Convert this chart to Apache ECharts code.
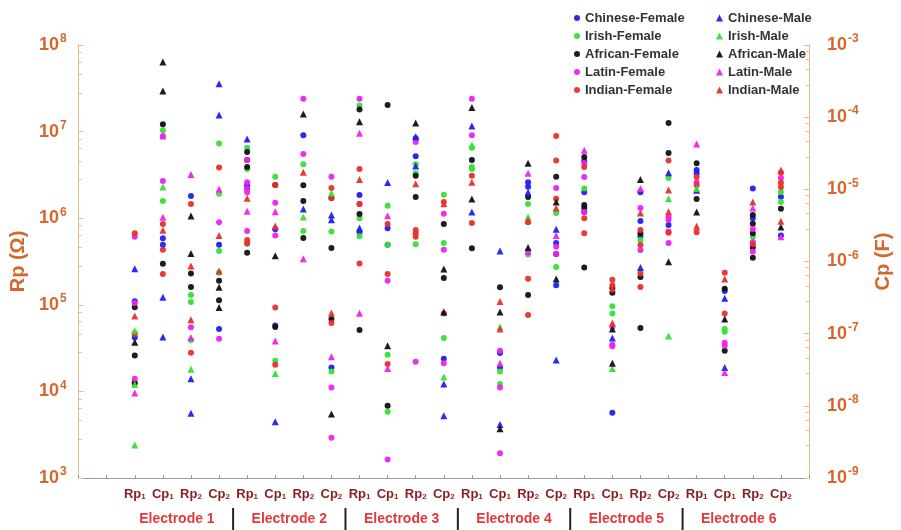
<!DOCTYPE html>
<html><head><meta charset="utf-8">
<script src="https://cdn.jsdelivr.net/npm/echarts@6/dist/echarts.min.js"></script>
<style>html,body{margin:0;padding:0;background:#fff}#c{width:901px;height:530px}</style>
</head><body><div id="c"></div>
<script>
// ---- categories / labels ----
const categories = ['Rp1','Cp1','Rp2','Cp2','Rp1','Cp1','Rp2','Cp2','Rp1','Cp1','Rp2','Cp2',
                    'Rp1','Cp1','Rp2','Cp2','Rp1','Cp1','Rp2','Cp2','Rp1','Cp1','Rp2','Cp2'];
const electrodes = ['Electrode 1','Electrode 2','Electrode 3','Electrode 4','Electrode 5','Electrode 6'];
const leftTicks = [1e3,1e4,1e5,1e6,1e7,1e8];
const rightTicks = [1e-9,1e-8,1e-7,1e-6,1e-5,1e-4,1e-3];
const femaleNames = ['Chinese-Female','Irish-Female','African-Female','Latin-Female','Indian-Female'];
const maleNames = ['Chinese-Male','Irish-Male','African-Male','Latin-Male','Indian-Male'];

// ---- values per column (Rp columns in Ω, Cp columns in F) ----
const chineseFemale = [[1.1e5,4.2e4],[2.1e-6,1.7e-6],[1.8e6],[1.7e-6,1.16e-7],[2.4e6,2.2e6],[2.8e-6,1.3e-7],[9.1e6],[3.4e-8],
  [1.85e6,6.9e5],[2.9e-6,1.7e-6],[8.4e6,5.2e6],[4.5e-8],[],[5.4e-8,3.4e-8],[2.6e6,2.3e6],[1.8e-6,4.7e-7],
  [4.6e6,2.0e6,1.18e6],[8.0e-9],[2.0e6,9.3e5,6.2e5],[3.2e-6],[3.6e6,3.3e6],[3.9e-7],[2.2e6,1.0e6],[7.9e-6,2.3e-6]];
const irishFemale = [[1.25e4],[6.6e-5,6.9e-6],[1.3e5,1.08e5,3.9e4],[4.3e-5,8.7e-6,1.4e-6,7.0e-7],[6.5e6,3.7e6,5.1e5],[1.5e-5,4.2e-8],[4.2e6,7.1e5],[2.6e-6,3.0e-8],
  [2.0e7,1.0e6,6.2e5],[5.9e-6,1.7e-6,5.1e-8,8.3e-9],[4.2e6,3.3e6,5.0e5],[8.4e-6,1.8e-6,8.7e-8],[6.5e6,3.9e6,3.7e6],[3.0e-8,2.0e-8],[1.46e6,3.8e5],[4.7e-6,8.4e-7],
  [2.2e6],[2.4e-7,1.9e-7],[5.6e5],[1.44e-5],[],[1.16e-7,1.06e-7],[6.1e5],[9.2e-6,6.7e-6]];
const africanFemale = [[9.4e4,2.6e4,1.25e4],[8.0e-5,9.3e-7],[2.3e5,1.6e5],[5.4e-7,2.9e-7],[5.8e6,4.7e6,3.9e6,4.0e5],[1.15e-5,1.24e-7],[2.4e6,1.58e6,5.9e5],[7.6e-6,1.54e-6,1.6e-7],
  [1.8e7,1.12e6,5.1e4],[1.48e-4,1.0e-8],[3.1e6,1.76e6],[3.3e-6,5.9e-7],[4.7e6,4.5e5],[4.4e-7],[1.76e6,1.3e5],[1.5e-5,1.27e-6],
  [5.1e6,1.42e6,1.31e6,2.7e5],[4.3e-7,3.7e-7],[6.7e5,2.1e5,5.4e4],[8.3e-5,3.2e-5],[4.3e6,1.67e6],[4.2e-7,5.8e-8],[1.09e6,8.6e5,6.7e5,4.6e5,3.5e5],[5.4e-6]];
const latinFemale = [[6.1e5,1.05e5,1.4e4],[5.5e-5,1.3e-5],[5.5e4],[3.5e-6,8.5e-8],[4.7e6,2.6e6,2.2e6,2.0e6,7.1e5],[6.5e-6,2.3e-6],[2.4e7,5.5e6],[1.5e-5,1.8e-8,3.6e-9],
  [2.4e7,1.46e6],[5.4e-7,1.8e-9],[7.6e6,2.2e4],[4.6e-6,1.45e-6,3.9e-8],[2.4e7,9.1e6],[5.8e-8,1.8e-8,2.2e-9],[4.0e5],[1.04e-5,1.6e-6,1.27e-6],
  [4.3e6,3.0e6,1.18e6],[1.24e-7,7.0e-8,6.7e-8],[1.31e6,4.3e5],[4.1e-6,3.8e-6,2.6e-6,1.8e-6],[2.6e6],[7.5e-8,6.8e-8],[7.5e5,5.3e5,4.1e5],[1.44e-5]];
const indianFemale = [[6.7e5,4.7e4,4.6e4],[3.3e-6,1.45e-6,6.7e-7],[1.46e6,2.8e4],[2.0e-5],[5.6e5,5.1e5],[1.15e-5,2.3e-7,3.7e-8],[],[1.04e-5,7.6e-6,1.4e-7],
  [3.7e6,1.46e6,3.0e5],[3.3e-6,6.7e-7,3.8e-8],[7.3e5,6.7e5,6.1e5],[6.7e-6,1.9e-7],[3.1e6,8.8e5],[],[9.0e5,2.0e5,7.6e4],[5.5e-5,2.5e-5,7.4e-6],
  [3.9e6,1.0e6,6.7e5],[5.6e-7,4.7e-7],[7.3e5,4.9e5,2.3e5,1.6e5],[2.5e-5,2.5e-6],[3.0e6,2.4e6,6.9e5],[7.0e-7,1.9e-7],[5.0e5],[1.7e-5,1.23e-5,1.08e-5]];
const chineseMale = [[2.6e5],[3.2e-7,9.0e-8],[1.4e4,5.6e3],[2.9e-4,1.07e-4],[8.2e6],[6.0e-9],[1.28e6],[4.4e-6,3.8e-6],
  [7.7e5],[1.24e-5],[8.7e6,4.0e6],[2.0e-8,7.3e-9],[1.16e7,1.18e6],[1.4e-6,5.5e-9],[2.0e6],[2.8e-6,4.3e-8],
  [],[8.7e-8],[2.7e5],[1.7e-5],[2.1e6],[3.1e-7,3.4e-8],[],[]];
const irishMale = [[5.0e4,1.2e4,2.4e3],[1.08e-5],[1.8e4],[],[],[2.8e-8],[1.03e6],[8.9e-6],
  [],[],[],[2.5e-8],[7.0e6],[1.24e-7],[1.03e6],[],
  [],[3.3e-8],[],[7.4e-6,9.3e-8],[2.2e6],[],[],[]];
const africanMale = [[3.7e4],[5.8e-4,2.3e-4],[1.06e6,3.9e5],[4.4e-7,2.3e-7],[],[1.2e-6],[1.6e7],[7.7e-9],
  [1.3e7],[6.8e-8],[1.26e7],[7.9e-7,2.0e-7],[1.9e7,1.67e6],[2.0e-7,4.8e-9],[4.3e6,4.6e5],[6.7e-6,5.7e-7],
  [],[1.16e-7,3.9e-8],[2.8e6],[9.9e-7],[1.18e6],[1.6e-7],[],[3.0e-6]];
const latinMale = [[9.6e3],[5.5e-5,4.1e-6],[3.2e6,4.2e4],[1.0e-5],[1.2e6],[4.9e-6,7.9e-8],[3.4e5],[4.8e-8],
  [9.6e6,8.0e4],[4.3e-6,3.3e-8],[],[],[],[3.9e-8],[3.3e6],[2.3e-6],
  [6.1e6],[],[2.2e6],[],[7.2e6],[2.9e-8],[1.31e6],[2.2e-6]];
const indianMale = [[7.4e4],[2.7e-6],[2.8e5,6.7e4],[2.3e-6,7.4e-7],[1.7e6],[3.1e-6],[3.4e6],[1.94e-7],
  [2.8e6],[],[2.5e6],[6.3e-6],[2.6e6],[2.8e-7,1.16e-7],[9.5e5],[5.5e-6],
  [],[4.2e-7,1.4e-7],[1.15e6],[9.8e-6,4.9e-6],[8.1e5],[5.7e-7],[1.54e6],[1.86e-5,3.6e-6]];

const FONT = 'Arial, "Liberation Sans", sans-serif';
const ORANGE = '#d4682c';
const groups = [
  {name:'Chinese-Female', vals:chineseFemale, color:'#1f1fef', sym:'circle'},
  {name:'Irish-Female', vals:irishFemale, color:'#35e035', sym:'circle'},
  {name:'African-Female', vals:africanFemale, color:'#111111', sym:'circle'},
  {name:'Latin-Female', vals:latinFemale, color:'#ee22ee', sym:'circle'},
  {name:'Indian-Female', vals:indianFemale, color:'#e8302a', sym:'circle'},
  {name:'Chinese-Male', vals:chineseMale, color:'#1f1fef', sym:'triangle'},
  {name:'Irish-Male', vals:irishMale, color:'#35e035', sym:'triangle'},
  {name:'African-Male', vals:africanMale, color:'#111111', sym:'triangle'},
  {name:'Latin-Male', vals:latinMale, color:'#ee22ee', sym:'triangle'},
  {name:'Indian-Male', vals:indianMale, color:'#e8302a', sym:'triangle'}
];
const X_OFFSET = 2; // first column sits at x = 2 on a 0..26 axis

const series = [];
groups.forEach(g => {
  const rp = [], cp = [];
  g.vals.forEach((arr, i) => {
    arr.forEach(v => { (i % 2 === 0 ? rp : cp).push([i + X_OFFSET, v]); });
  });
  [[rp,0],[cp,1]].forEach(([d, ax]) => {
    series.push({
      name: g.name, type: 'scatter', yAxisIndex: ax, data: d,
      symbol: g.sym, symbolSize: g.sym === 'circle' ? 6 : 7,
      itemStyle: {color: g.color, opacity: 0.95},
      emphasis: {disabled: true}
    });
  });
});

function powLabel(v) {
  const e = Math.round(Math.log10(v));
  return '{b|10}{s|' + e + '}';
}
const powRich = {
  b: {fontSize: 18, fontWeight: 'bold', color: ORANGE, fontFamily: FONT},
  s: {fontSize: 12, fontWeight: 'bold', color: ORANGE, fontFamily: FONT, padding: [0,0,12,1]}
};

const chart = echarts.init(document.getElementById('c'), null, {renderer: 'canvas'});
const option = {
  animation: false,
  backgroundColor: '#fff',
  grid: {left: 74, right: 78, top: 45, bottom: 52, containLabel: false},
  legend: [
    {data: femaleNames, orient: 'vertical', left: 569, top: 6, icon: 'circle', itemWidth: 6, itemHeight: 6,
     itemGap: 4, textStyle: {fontSize: 13, fontWeight: 'bold', color: '#333', fontFamily: FONT, lineHeight: 14}},
    {data: maleNames, orient: 'vertical', left: 711, top: 6, icon: 'triangle', itemWidth: 7, itemHeight: 7,
     itemGap: 4, textStyle: {fontSize: 13, fontWeight: 'bold', color: '#333', fontFamily: FONT, lineHeight: 14}}
  ],
  xAxis: {
    type: 'value', min: 0, max: 26, interval: 1,
    axisLine: {show: true, lineStyle: {color: '#9a9a9a', width: 1}},
    axisTick: {show: true, inside: true, length: 3, lineStyle: {color: '#9a9a9a'}},
    splitLine: {show: false},
    axisLabel: {
      margin: 9,
      formatter: v => {
        const c = categories[v - X_OFFSET];
        if (!c) return '';
        return '{m|' + c.slice(0, 2) + '}{n|' + c.slice(2) + '}';
      },
      rich: {
        m: {fontSize: 13, fontWeight: 'bold', color: '#8a1e1e', fontFamily: FONT},
        n: {fontSize: 8, fontWeight: 'bold', color: '#8a1e1e', fontFamily: FONT, padding: [6,0,0,0]}
      }
    }
  },
  yAxis: [
    {
      type: 'log', logBase: 10, min: leftTicks[0], max: leftTicks[leftTicks.length - 1], position: 'left',
      name: 'Rp (Ω)', nameLocation: 'middle', nameGap: 44, nameRotate: 90,
      nameTextStyle: {fontSize: 20, fontWeight: 'bold', color: ORANGE, fontFamily: FONT},
      axisLine: {show: true, lineStyle: {color: '#efb894'}},
      axisTick: {show: true, inside: true, length: 5, lineStyle: {color: '#efb894'}},
      minorTick: {show: true, splitNumber: 5, length: 3, lineStyle: {color: '#efb894'}},
      splitLine: {show: false},
      axisLabel: {margin: 12, formatter: powLabel, rich: powRich}
    },
    {
      type: 'log', logBase: 10, min: rightTicks[0], max: rightTicks[rightTicks.length - 1], position: 'right',
      name: 'Cp (F)', nameLocation: 'middle', nameGap: 64, nameRotate: 90,
      nameTextStyle: {fontSize: 20, fontWeight: 'bold', color: ORANGE, fontFamily: FONT},
      axisLine: {show: true, lineStyle: {color: '#efb894'}},
      axisTick: {show: true, inside: true, length: 5, lineStyle: {color: '#efb894'}},
      minorTick: {show: true, splitNumber: 5, length: 3, lineStyle: {color: '#efb894'}},
      splitLine: {show: false},
      axisLabel: {margin: 18, formatter: powLabel, rich: powRich}
    }
  ],
  series: series
};
chart.setOption(option);

// electrode labels and separators positioned through the x axis scale
const g = [];
electrodes.forEach((name, k) => {
  const cx = chart.convertToPixel({xAxisIndex: 0}, X_OFFSET + 4 * k + 1.5);
  g.push({type: 'text', x: cx, y: 512, style: {text: name, fill: '#e23a3a',
    font: 'bold 14px ' + FONT, textAlign: 'center'}});
  if (k > 0) {
    const sx = chart.convertToPixel({xAxisIndex: 0}, X_OFFSET + 4 * k - 0.5);
    g.push({type: 'line', shape: {x1: sx, y1: 508, x2: sx, y2: 530}, style: {stroke: '#222', lineWidth: 2}});
  }
});
chart.setOption({graphic: g});
</script></body></html>
